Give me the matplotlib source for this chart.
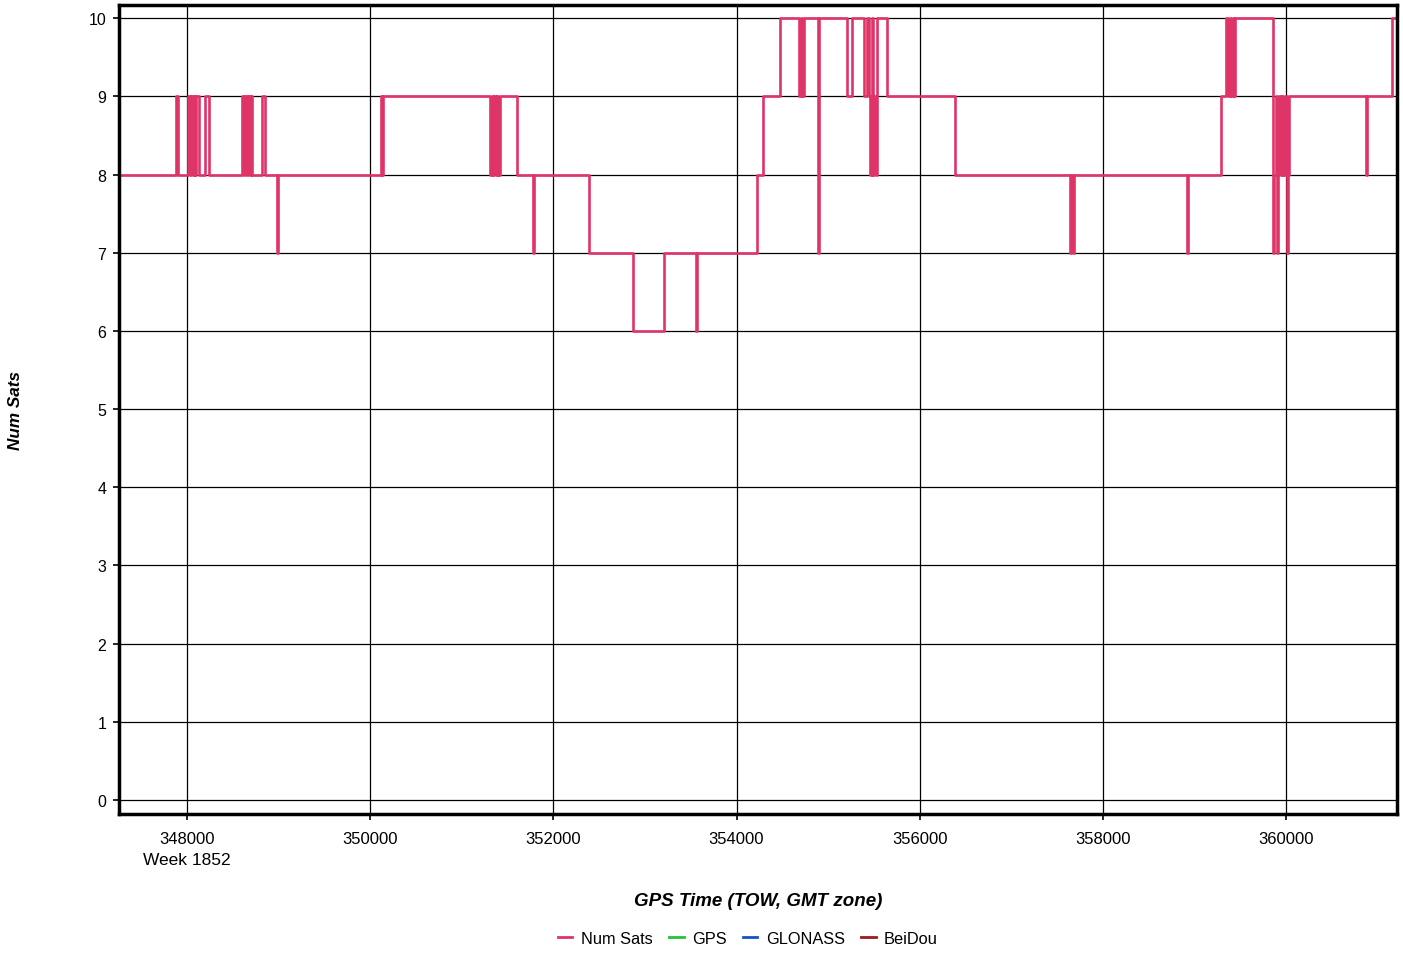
import matplotlib.pyplot as plt
import numpy as np

# Step changes in number of satellites (GPS time of week, value from that time on)
tow = [347258, 347880, 347902, 348011, 348030, 348045, 348062, 348075, 348087,
       348098, 348131, 348197, 348240, 348600, 348620, 348635, 348655, 348670,
       348690, 348700, 348710, 348819, 348852, 348983, 348994,
       350118, 350130, 350145, 351308, 351325, 351340, 351355, 351370, 351385,
       351400, 351415, 351603, 351777, 351790, 352389, 352869, 353207, 353557,
       353568, 354223, 354288, 354474, 354681, 354700, 354715, 354732, 354889,
       354900, 355205, 355260, 355391, 355424, 355446, 355460, 355475, 355490,
       355505, 355520, 355533, 355642, 356384, 357640, 357655, 357668, 357683,
       358917, 358928, 359288, 359343, 359365, 359386, 359400, 359415, 359430,
       359445, 359860, 359870, 359885, 359900, 359910, 359925, 359940, 359955,
       359970, 359985, 360009, 360019, 360030, 360041, 360871, 360882, 361155,
       361210]
num_sats = [8, 9, 8, 9, 8, 9, 8, 9, 8,
            9, 8, 9, 8, 9, 8, 9, 8, 9,
            8, 9, 8, 9, 8, 7, 8,
            9, 8, 9, 8, 9, 8, 9, 8, 9,
            8, 9, 8, 7, 8, 7, 6, 7, 6,
            7, 8, 9, 10, 9, 10, 9, 10, 7,
            10, 9, 10, 9, 10, 9, 8, 10, 8,
            9, 8, 10, 9, 8, 7, 8, 7, 8,
            7, 8, 9, 10, 9, 10, 9, 10, 9,
            10, 7, 8, 9, 7, 8, 9, 8, 9,
            8, 9, 7, 8, 9, 9, 8, 9, 10,
            10]

x_ticks = [348000, 350000, 352000, 354000, 356000, 358000, 360000]
y_ticks = list(range(0, 11))
legend_names = ['Num Sats', 'GPS', 'GLONASS', 'BeiDou']
legend_colors = ['#DF3468', '#22C23A', '#1452C8', '#9B1B1B']

plt.rcParams['font.family'] = ['Liberation Sans', 'DejaVu Sans']

fig = plt.figure(figsize=(14.03, 9.54), dpi=100)
ax = fig.add_axes([0.0848, 0.1457, 0.9109, 0.848])

ax.step(tow, num_sats, where='post', color=legend_colors[0], linewidth=1.9)
for name, col in zip(legend_names, legend_colors):
    ax.plot([], [], color=col, linewidth=2, label=name)

ax.set_xlim(347258, 361210)
ax.set_ylim(-0.18, 10.17)
ax.set_xticks(x_ticks)
ax.set_xticklabels([str(t) for t in x_ticks])
ax.set_yticks(y_ticks)
ax.grid(True, color='black', linewidth=0.9)
ax.set_axisbelow(True)
for s in ax.spines.values():
    s.set_linewidth(2.5)
ax.tick_params(axis='both', labelsize=11.5, length=4, width=1.2, pad=5)
ax.tick_params(axis='x', labelsize=12, pad=8)

ax.text(348000, -0.66, 'Week 1852', ha='center', va='top', fontsize=12.5)
ax.set_xlabel('GPS Time (TOW, GMT zone)', fontsize=13.5, fontweight='bold',
              fontstyle='italic', labelpad=33)
fig.text(0.011, 0.57, 'Num Sats', rotation=90, ha='center', va='center',
         fontsize=12.3, fontweight='bold', fontstyle='italic')

handles = [h for h in ax.get_lines()[1:]]
fig.legend(handles=handles, labels=legend_names, loc='center', ncol=4,
           bbox_to_anchor=(0.533, 0.015), frameon=False, fontsize=11.8,
           handlelength=0.9, handletextpad=0.5, columnspacing=1.0)

plt.savefig('out.png', dpi=100)
